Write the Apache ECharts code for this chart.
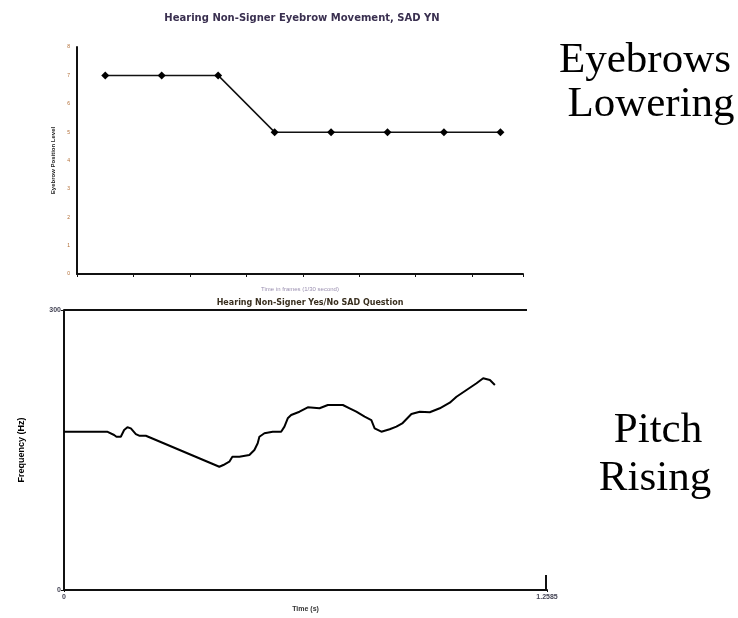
<!DOCTYPE html>
<html>
<head>
<meta charset="utf-8">
<script src="https://cdn.jsdelivr.net/npm/echarts@6/dist/echarts.min.js"></script>
<style>
  html, body { margin: 0; padding: 0; background: #fff; }
  #main { width: 738px; height: 618px; }
</style>
</head>
<body>
<div id="main"></div>
<script>
// eyebrow chart (top)
var browFrames = [0.5, 1.5, 2.5, 3.5, 4.5, 5.5, 6.5, 7.5];
var browLevel = [7, 7, 7, 5, 5, 5, 5, 5];
var browTicks = ['0', '1', '2', '3', '4', '5', '6', '7', '8'];

// pitch chart (bottom)
var pitchTime = [0, 0.1123, 0.1306, 0.1366, 0.1480, 0.1567, 0.1653, 0.1742, 0.1872, 0.1958,
  0.2133, 0.4047, 0.4151, 0.4308, 0.4387, 0.4569, 0.4830, 0.4961, 0.5047, 0.5091,
  0.5222, 0.5439, 0.5658, 0.5744, 0.5830, 0.5919, 0.6136, 0.6352, 0.6658, 0.6875,
  0.7266, 0.7441, 0.7616, 0.7833, 0.8008, 0.8094, 0.8269, 0.8486, 0.8661, 0.8825,
  0.9052, 0.9269, 0.9530, 0.9791, 1.0052, 1.0227, 1.0488, 1.0749, 1.0922, 1.1097, 1.1227];
var pitchHz = [169.6, 169.6, 166.1, 164.2, 164.2, 171.4, 174.3, 173.2, 167.1, 165.3,
  165.3, 132.1, 133.9, 137.5, 142.8, 142.8, 144.6, 150.0, 157.2, 164.2,
  167.9, 169.6, 169.6, 175.0, 184.0, 187.5, 191.0, 195.7, 194.7, 198.2,
  198.2, 194.7, 191.0, 185.7, 182.1, 173.2, 169.6, 172.2, 175.0, 178.9,
  188.6, 191.0, 190.4, 194.7, 200.7, 207.1, 214.3, 221.5, 226.8, 225.0, 219.6];
var pitchMaxTime = 1.2585;

var browData = browFrames.map(function (x, i) { return [x, browLevel[i]]; });
var pitchData = pitchTime.map(function (t, i) { return [t, pitchHz[i]]; });

var bigText = { fontFamily: 'Liberation Serif', fontSize: 43, fill: '#000', textAlign: 'center' };

var chart = echarts.init(document.getElementById('main'));
chart.setOption({
  animation: false,
  title: [
    {
      text: 'Hearing Non-Signer Eyebrow Movement, SAD YN', left: 297, top: 8, textAlign: 'center',
      textStyle: { fontFamily: 'DejaVu Sans', fontWeight: 'bold', fontSize: 10, color: '#3a3050' }
    },
    {
      text: 'Hearing Non-Signer Yes/No SAD Question', left: 305, top: 294, textAlign: 'center',
      textStyle: { fontFamily: 'DejaVu Sans', fontWeight: 'bold', fontSize: 8, color: '#3a3020' }
    }
  ],
  grid: [
    { left: 77, top: 47, width: 446, height: 227 },
    { left: 64, top: 310, width: 483, height: 280 }
  ],
  xAxis: [
    {
      gridIndex: 0, type: 'value', min: 0, max: 7.9, interval: 1,
      axisLine: { lineStyle: { color: '#111', width: 2 } },
      axisTick: { show: true, length: 3, lineStyle: { color: '#111' } },
      axisLabel: { show: false },
      splitLine: { show: false },
      name: 'Time in frames (1/30 second)', nameLocation: 'middle', nameGap: 12,
      nameTextStyle: { fontSize: 6, color: '#9a8fb0', fontFamily: 'Liberation Sans' }
    },
    {
      gridIndex: 1, type: 'value', min: 0, max: pitchMaxTime, interval: pitchMaxTime,
      axisLine: { lineStyle: { color: '#111', width: 2 } },
      axisTick: { show: true, length: 2, lineStyle: { color: '#111' } },
      axisLabel: {
        fontSize: 7, color: '#445', margin: 4, fontWeight: 'bold',
        formatter: function (v) { return v === 0 ? '0' : String(pitchMaxTime); }
      },
      splitLine: { show: false },
      name: 'Time (s)', nameLocation: 'middle', nameGap: 16,
      nameTextStyle: { fontSize: 7, fontWeight: 'bold', color: '#333', fontFamily: 'Liberation Sans' }
    }
  ],
  yAxis: [
    {
      gridIndex: 0, type: 'value', min: 0, max: 8, interval: 1,
      axisLine: { show: true, lineStyle: { color: '#111', width: 2 } },
      axisTick: { show: false },
      axisLabel: {
        fontSize: 5, color: '#b06a30', margin: 7,
        formatter: function (v) { return browTicks[v]; }
      },
      splitLine: { show: false },
      name: 'Eyebrow Position Level', nameLocation: 'middle', nameGap: 20, nameRotate: 90,
      nameTextStyle: { fontSize: 6, fontWeight: 'bold', color: '#222', fontFamily: 'Liberation Sans' }
    },
    {
      gridIndex: 1, type: 'value', min: 0, max: 300, interval: 300,
      axisLine: { show: true, lineStyle: { color: '#111', width: 2 } },
      axisTick: { show: true, length: 3, lineStyle: { color: '#111' } },
      axisLabel: { fontSize: 7, color: '#445', margin: 3, fontWeight: 'bold' },
      splitLine: { show: false },
      name: 'Frequency (Hz)', nameLocation: 'middle', nameGap: 38, nameRotate: 90,
      nameTextStyle: { fontSize: 9, fontWeight: 'bold', color: '#000', fontFamily: 'Liberation Sans' }
    }
  ],
  series: [
    {
      type: 'line', xAxisIndex: 0, yAxisIndex: 0, data: browData,
      symbol: 'diamond', symbolSize: 8,
      itemStyle: { color: '#000' },
      lineStyle: { color: '#111', width: 1.5 }
    },
    {
      type: 'line', xAxisIndex: 1, yAxisIndex: 1, data: pitchData,
      symbol: 'none',
      lineStyle: { color: '#000', width: 2 }
    }
  ],
  graphic: [
    { type: 'line', shape: { x1: 64, y1: 310, x2: 527, y2: 310 }, style: { stroke: '#111', lineWidth: 2 } },
    { type: 'line', shape: { x1: 546, y1: 575, x2: 546, y2: 590 }, style: { stroke: '#111', lineWidth: 2 } },
    { type: 'text', style: Object.assign({ text: 'Eyebrows', x: 645, y: 39 }, bigText) },
    { type: 'text', style: Object.assign({ text: 'Lowering', x: 651, y: 83 }, bigText) },
    { type: 'text', style: Object.assign({ text: 'Pitch', x: 658, y: 409 }, bigText) },
    { type: 'text', style: Object.assign({ text: 'Rising', x: 655, y: 457 }, bigText) }
  ]
});
</script>
</body>
</html>
